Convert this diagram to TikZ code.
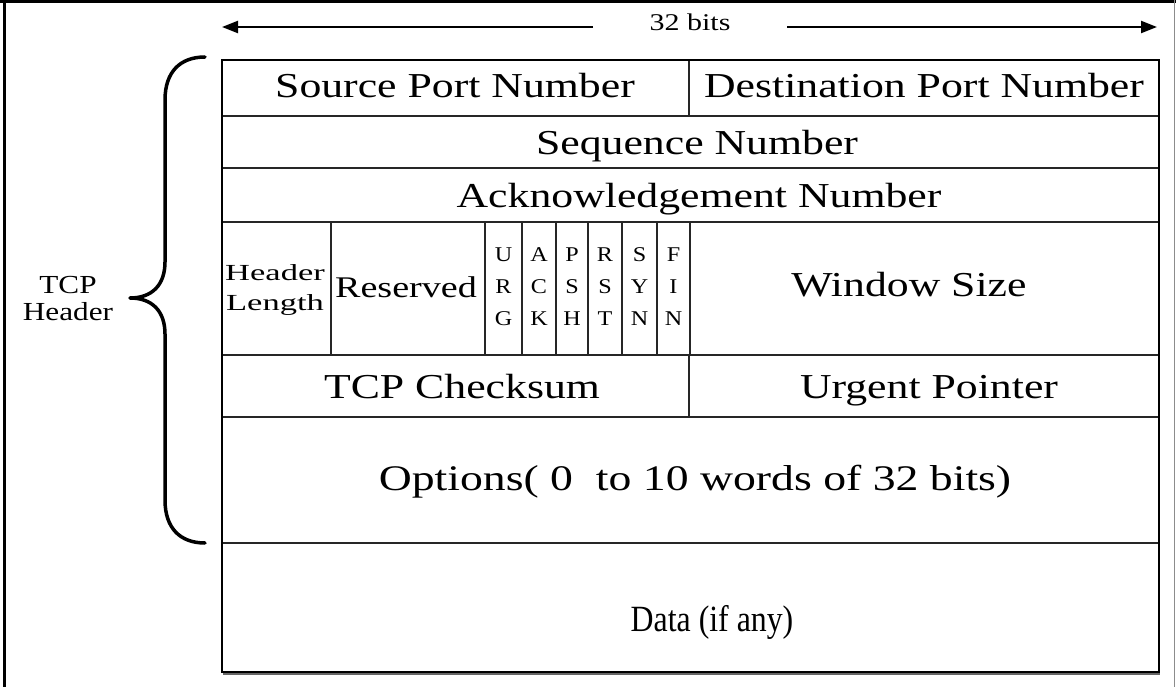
\documentclass[tikz,border=0pt]{standalone}
\usepackage{fontspec}
\setmainfont{Liberation Serif}
\usetikzlibrary{arrows.meta}
\newcommand{\hsc}[2]{\scalebox{#1}[1]{#2}}
\newcommand{\flagtxt}[3]{\hsc{1.15}{#1}\\\hsc{1.15}{#2}\\\hsc{1.15}{#3}}
\begin{document}
\begin{tikzpicture}[x=1pt,y=-1pt,
  gridline/.style={draw=black!85,line width=1.4pt},
  outerline/.style={draw=black,line width=2pt},
  bigtxt/.style={inner sep=0pt,anchor=base,font=\fontsize{35}{40}\selectfont},
  midtxt/.style={inner sep=0pt,anchor=base,font=\fontsize{30}{34}\selectfont},
  flagbox/.style={inner sep=0pt,anchor=center,align=center,font=\fontsize{21}{32}\selectfont},
  smalltxt/.style={inner sep=0pt,anchor=base,font=\fontsize{23}{33}\selectfont},
  lefttxt/.style={inner sep=0pt,anchor=base,font=\fontsize{26}{30}\selectfont},
  bitstxt/.style={inner sep=0pt,anchor=base,font=\fontsize{24}{28}\selectfont},
  bitsarrow/.style={line width=2.2pt,-{Triangle[length=16pt,width=12pt]}},
  bracepath/.style={line width=3.5pt,line cap=round,line join=round}
]
\useasboundingbox (0,0) rectangle (1176,687);
% outer frame
\draw[line width=3pt] (0,1.5) -- (1176,1.5);
\draw[line width=2.5pt] (4.5,0) -- (4.5,687);
\draw[line width=0.8pt,black!45] (1174.5,0) -- (1174.5,687);

% top arrow
\node[bitstxt] (bits) at (690,31) {\hsc{1.25}{32 bits}};
\coordinate (aLs) at (593,27);
\coordinate (aLe) at (222,27);
\coordinate (aRs) at (787,27);
\coordinate (aRe) at (1157,27);
\draw[bitsarrow] (aLs) -- (aLe);
\draw[bitsarrow] (aRs) -- (aRe);

% table grid
\coordinate (TL) at (222,60);
\coordinate (BR) at (1159,672);
\draw[gridline] (222,116) -- (1159,116);
\draw[gridline] (222,168) -- (1159,168);
\draw[gridline] (222,222) -- (1159,222);
\draw[gridline] (222,355) -- (1159,355);
\draw[gridline] (222,417) -- (1159,417);
\draw[gridline] (222,543) -- (1159,543);
\draw[gridline] (689,60) -- (689,116);
\draw[gridline] (689,355) -- (689,417);
\foreach \xx in {331,485,522,556,588,622,657,690}
  \draw[gridline] (\xx,222) -- (\xx,355);
\draw[outerline] (TL) rectangle (BR);
\draw[line width=1.5pt,black!60] (223,674) -- (1160,674);

% cell texts
\node[bigtxt] (src) at (455,98) {\hsc{1.25}{Source Port Number}};
\node[bigtxt] (dst) at (924,98) {\hsc{1.25}{Destination Port Number}};
\node[bigtxt] (seq) at (697,155) {\hsc{1.25}{Sequence Number}};
\node[bigtxt] (ack) at (699,208) {\hsc{1.25}{Acknowledgement Number}};
\node[smalltxt] (hl1) at (275,280) {\hsc{1.5}{Header}};
\node[smalltxt] (hl2) at (275,310) {\hsc{1.5}{Length}};
\node[midtxt] (res) at (406,298) {\hsc{1.27}{Reserved}};
\node[flagbox] (urg) at (503.5,287) {\flagtxt{U}{R}{G}};
\node[flagbox] (ackf) at (539,287) {\flagtxt{A}{C}{K}};
\node[flagbox] (psh) at (572,287) {\flagtxt{P}{S}{H}};
\node[flagbox] (rst) at (605,287) {\flagtxt{R}{S}{T}};
\node[flagbox] (syn) at (639.5,287) {\flagtxt{S}{Y}{N}};
\node[flagbox] (fin) at (673.5,287) {\flagtxt{F}{I}{N}};
\node[bigtxt] (win) at (909,297) {\hsc{1.25}{Window Size}};
\node[bigtxt] (chk) at (462,398) {\hsc{1.25}{TCP Checksum}};
\node[bigtxt] (urp) at (929,398) {\hsc{1.25}{Urgent Pointer}};
\node[bigtxt,font=\fontsize{36}{40}\selectfont] (opt) at (695,490) {\hsc{1.27}{Options( 0 \ to 10 words of 32 bits)}};
\node[bigtxt,font=\fontsize{37}{40}\selectfont] (data) at (712,631) {\hsc{0.86}{Data (if any)}};

% brace and label
\draw[bracepath] (205,57) .. controls (180,57) and (165,72) .. (165,100)
  -- (165,262) .. controls (165,285) and (152,298) .. (130,298)
  .. controls (152,298) and (165,311) .. (165,334)
  -- (165,500) .. controls (165,528) and (180,543) .. (205,543);
\node[lefttxt] (tcp) at (68,294) {\hsc{1.2}{TCP}};
\node[lefttxt] (hdr) at (68,320) {\hsc{1.2}{Header}};
\end{tikzpicture}
\end{document}
